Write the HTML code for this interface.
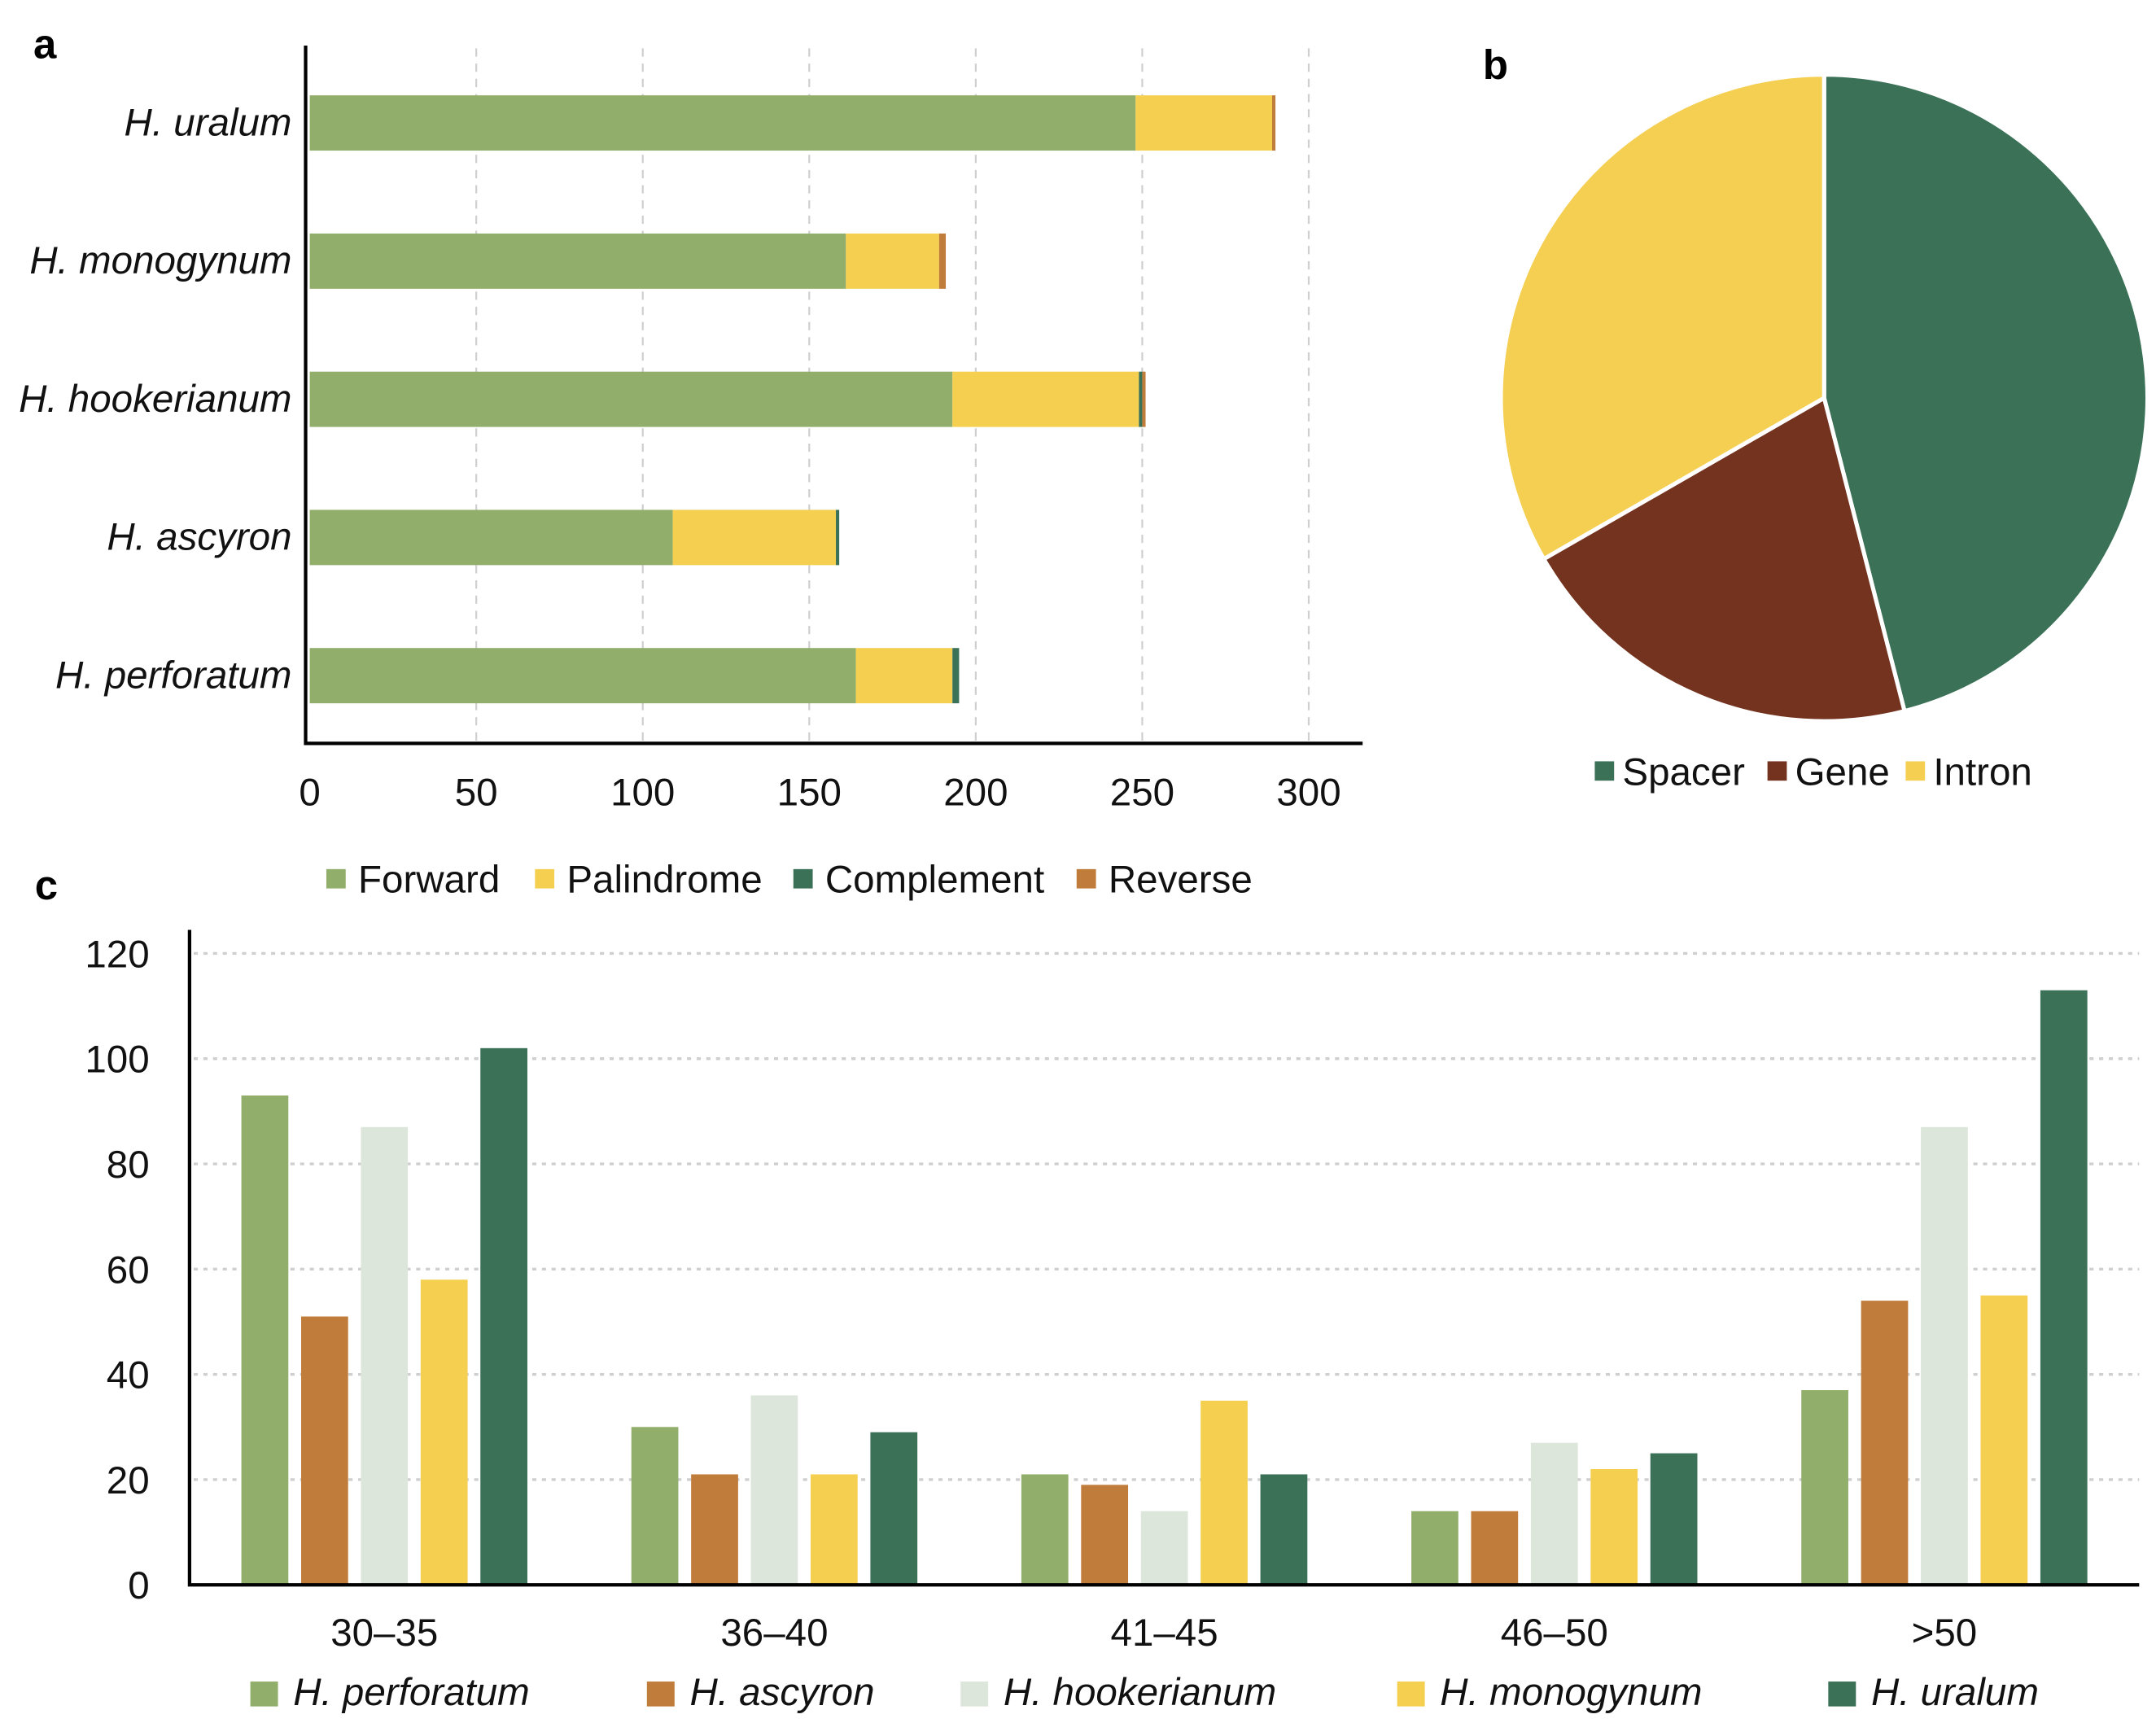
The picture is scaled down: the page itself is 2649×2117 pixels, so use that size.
<!DOCTYPE html>
<html><head><meta charset="utf-8"><style>
html,body{margin:0;padding:0;background:#fff;}
svg{display:block;font-family:"Liberation Sans",Arial,sans-serif;}
</style></head><body>
<svg id="fig" width="2649" height="2117" viewBox="0 0 1560 1247" xmlns="http://www.w3.org/2000/svg">
<text x="24" y="42" font-size="30" font-weight="bold">a</text>
<text x="1073" y="57" font-size="30" font-weight="bold">b</text>
<text x="25" y="651" font-size="30" font-weight="bold">c</text>
<g id="ga"></g>
<g id="gb"></g>
<g id="gc"></g>
</svg>
<script>
// ---- Chart a data ----
const aSpecies = ["H. uralum","H. monogynum","H. hookerianum","H. ascyron","H. perforatum"];
const aForward = [248,161,193,109,164];
const aPalindrome = [41,28,56,49,29];
const aComplement = [0,0,1,1,2];
const aReverse = [1,2,1,0,0];
const aTicks = [0,50,100,150,200,250,300];
const aTypes = ["Forward","Palindrome","Complement","Reverse"];
// ---- Chart b data ----
const bLabels = ["Spacer","Gene","Intron"];
const bValues = [46,20.7,33.3];
// ---- Chart c data ----
const cCats = ["30–35","36–40","41–45","46–50",">50"];
const cPerforatum = [93,30,21,14,37];
const cAscyron = [51,21,19,14,54];
const cHookerianum = [87,36,14,27,87];
const cMonogynum = [58,21,35,22,55];
const cUralum = [102,29,21,25,113];
const cTicks = [0,20,40,60,80,100,120];
const cSpecies = ["H. perforatum","H. ascyron","H. hookerianum","H. monogynum","H. uralum"];

const NS="http://www.w3.org/2000/svg";
function mk(parent,tag,attrs,txt){const e=document.createElementNS(NS,tag);for(const k in attrs)e.setAttribute(k,attrs[k]);if(txt!=null)e.textContent=txt;parent.appendChild(e);return e;}
const typeColors=["#92ae6b","#f4cf50","#3b7157","#c07c3a"];

// ---- Chart a ----
(function(){
const g=document.getElementById('ga');
const x=v=>224+v*2.41;
const rowY=i=>69+i*100;
aTicks.forEach(t=>{
  if(t>0){const l=mk(g,'line',{x1:x(t),x2:x(t),y1:35,y2:538,stroke:'#cfcfcf','stroke-width':1.3,'stroke-dasharray':'6,5'});
  
  }
  const tx=mk(g,'text',{x:x(t),y:583,'font-size':28,'text-anchor':'middle',fill:'#111'},t);
  
  
});
const series=[aForward,aPalindrome,aComplement,aReverse];
aSpecies.forEach((s,i)=>{
  let acc=0;
  series.forEach((arr,k)=>{
    const v=arr[i]; if(v<=0)return;
    const r=mk(g,'rect',{x:x(acc),y:rowY(i),width:x(acc+v)-x(acc),height:40,fill:typeColors[k]});
    
    
    acc+=v;
  });
  const t=mk(g,'text',{x:211,y:rowY(i)+29,'font-size':28,'font-style':'italic','text-anchor':'end',fill:'#111'},s);
  
  
});
const ax=mk(g,'path',{d:'M221,33 V538 H986',fill:'none',stroke:'#000','stroke-width':2.5});


const lx=[236,387,574,779];
aTypes.forEach((n,k)=>{
  const r=mk(g,'rect',{x:lx[k],y:629,width:14,height:14,fill:typeColors[k]});
  
  
  const t=mk(g,'text',{x:lx[k]+23,y:646,'font-size':28,fill:'#111'},n);
  
  
});
})();

// ---- Chart b ----
(function(){
const g=document.getElementById('gb');
const cx=1320,cy=288,R=234;
const cols=["#3b7157","#74331e","#f4cf52"];
const tot=bValues.reduce((a,b)=>a+b,0);
let a0=0;
bValues.forEach((v,i)=>{
  const a1=a0+v/tot*2*Math.PI;
  const p=(a)=>[cx+R*Math.sin(a),cy-R*Math.cos(a)];
  const [x0,y0]=p(a0),[x1,y1]=p(a1);
  const large=(a1-a0)>Math.PI?1:0;
  const s=mk(g,'path',{d:`M${cx},${cy} L${x0},${y0} A${R},${R} 0 ${large} 1 ${x1},${y1} Z`,fill:cols[i],stroke:'#fff','stroke-width':3});
  
  
  a0=a1;
});
const lx=[1154,1279,1379];
bLabels.forEach((n,i)=>{
  const r=mk(g,'rect',{x:lx[i],y:551,width:14,height:14,fill:cols[i]});
  
  
  const t=mk(g,'text',{x:lx[i]+20,y:568,'font-size':28,fill:'#111'},n);
  
  
});
})();

// ---- Chart c ----
(function(){
const g=document.getElementById('gc');
const y=v=>1147-v*3.808;
const cx=i=>278+i*282.25;
const cols=["#92ae6b","#c07c3a","#dde6da","#f4cf50","#3b7157"];
const series=[cPerforatum,cAscyron,cHookerianum,cMonogynum,cUralum];
cTicks.forEach(t=>{
  if(t>0){const l=mk(g,'line',{x1:140,x2:1548,y1:y(t),y2:y(t),stroke:'#cfcfcf','stroke-width':2,'stroke-dasharray':'3,4'});
  
  }
  const tx=mk(g,'text',{x:108,y:y(t)+10,'font-size':28,'text-anchor':'end',fill:'#111'},t);
  
  
});
cCats.forEach((c,i)=>{
  series.forEach((arr,k)=>{
    const bx=cx(i)+(k-2)*43.25-17;
    const r=mk(g,'rect',{x:bx,y:y(arr[i]),width:34,height:1147-y(arr[i]),fill:cols[k]});
    
    
  });
  const t=mk(g,'text',{x:cx(i),y:1191,'font-size':28,'text-anchor':'middle',fill:'#111'},c);
  
  
});
const ax=mk(g,'path',{d:'M137,673 V1147 H1548',fill:'none',stroke:'#000','stroke-width':2.5});


const lx=[181,468,695,1011,1323];
cSpecies.forEach((n,k)=>{
  const r=mk(g,'rect',{x:lx[k],y:1217,width:20,height:18,fill:cols[k]});
  
  
  const t=mk(g,'text',{x:lx[k]+31,y:1234,'font-size':28,'font-style':'italic',fill:'#111'},n);
  
  
});
})();
</script>
</body></html>
